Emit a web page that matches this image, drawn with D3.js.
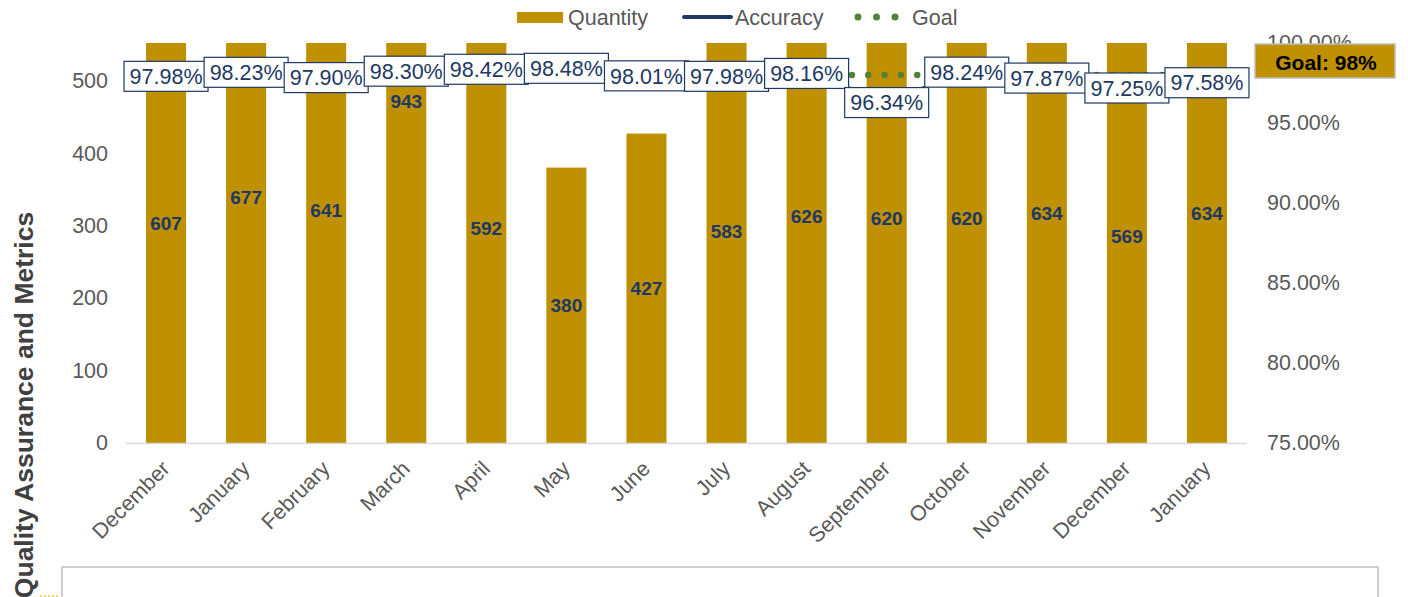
<!DOCTYPE html>
<html><head><meta charset="utf-8">
<script src="https://cdn.jsdelivr.net/npm/d3@7/dist/d3.min.js"></script>
<style>body{margin:0;background:#fff}svg{display:block;font-family:"Liberation Sans",Arial,sans-serif}</style>
</head><body>
<svg id="c" width="1408" height="597"></svg>
<script>
const months = ["December","January","February","March","April","May","June","July","August","September","October","November","December","January"];
const quantity = [607,677,641,943,592,380,427,583,626,620,620,634,569,634];
const accuracy = [97.98,98.23,97.90,98.30,98.42,98.48,98.01,97.98,98.16,96.34,98.24,97.87,97.25,97.58];
const goal = [98,98,98,98,98,98,98,98,98,98,98,98,98,98];
const leftTicks = [0,100,200,300,400,500];
const rightTicks = [75,80,85,90,95,100];

const svg = d3.select("#c");
const L = 126, R = 1247, T = 43, B = 443;
const gold = "#BF9000", navy = "#203864", grey = "#595959", green = "#548235";
const FS = 21.5;

const x = d3.scaleBand().domain(d3.range(months.length)).range([L, R]).paddingInner(0.5).paddingOuter(0.25);
const yL = d3.scaleLinear().domain([0, 552]).range([B, T]);
const yR = d3.scaleLinear().domain([75, 100]).range([B, T]);
const cx = i => x(i) + x.bandwidth() / 2;

svg.append("defs").append("clipPath").attr("id","plot").append("rect")
  .attr("x", L).attr("y", T).attr("width", R - L).attr("height", B - T);

// bottom box
svg.append("rect").attr("x", 62).attr("y", 567).attr("width", 1316).attr("height", 60)
  .attr("fill", "#fff").attr("stroke", "#bfbfbf").attr("stroke-width", 1.5);
svg.append("line").attr("x1", 40).attr("x2", 58).attr("y1", 596).attr("y2", 596)
  .attr("stroke", "#f5d76e").attr("stroke-width", 2).attr("stroke-dasharray", "2 2");

// bars
svg.append("g").attr("clip-path", "url(#plot)").selectAll("rect").data(quantity).join("rect")
  .attr("x", (d, i) => x(i)).attr("width", x.bandwidth())
  .attr("y", d => yL(d)).attr("height", d => B - yL(d)).attr("fill", gold);

// baseline
svg.append("line").attr("x1", L).attr("x2", R).attr("y1", B + 0.5).attr("y2", B + 0.5)
  .attr("stroke", "#d9d9d9").attr("stroke-width", 1.5);

// left axis
const axL = svg.append("g").attr("transform", `translate(${L},0)`)
  .call(d3.axisLeft(yL).tickValues(leftTicks).tickSize(0).tickPadding(18));
axL.select(".domain").remove();
axL.selectAll("text").attr("font-size", FS).attr("fill", grey).attr("font-family", "Liberation Sans, Arial");

// right axis
const axR = svg.append("g").attr("transform", `translate(${R},0)`)
  .call(d3.axisRight(yR).tickValues(rightTicks).tickSize(0).tickPadding(20).tickFormat(d => d.toFixed(2) + "%"));
axR.select(".domain").remove();
axR.selectAll("text").attr("font-size", FS).attr("fill", grey).attr("font-family", "Liberation Sans, Arial");

// x axis labels
const axX = svg.append("g").attr("transform", `translate(0,${B})`)
  .call(d3.axisBottom(x).tickSize(0).tickFormat(i => months[i]));
axX.select(".domain").remove();
axX.selectAll("text").attr("font-size", FS).attr("fill", grey).attr("font-family", "Liberation Sans, Arial")
  .attr("text-anchor", "end").attr("dy", null).attr("y", 0)
  .attr("transform", "translate(5,27) rotate(-45)");

// y title
svg.append("text").attr("transform", "translate(33,405) rotate(-90)").attr("text-anchor", "middle")
  .attr("font-size", 26.5).attr("font-weight", "bold").attr("fill", "#404040").text("Quality Assurance and Metrics");

// bar value labels (centered at the bar's full middle)
svg.append("g").selectAll("text").data(quantity).join("text")
  .attr("x", (d, i) => cx(i)).attr("y", d => (B + yL(d)) / 2).attr("dy", "0.35em")
  .attr("text-anchor", "middle").attr("font-size", 19).attr("font-weight", "bold").attr("fill", navy)
  .text(d => d);

// goal line
svg.append("path").datum(goal).attr("fill", "none").attr("stroke", green).attr("stroke-width", 6.5)
  .attr("stroke-linecap", "round").attr("stroke-dasharray", "0 16.33")
  .attr("d", d3.line().x((d, i) => cx(i)).y(d => yR(d)));

// accuracy line
svg.append("path").datum(accuracy).attr("fill", "none").attr("stroke", navy).attr("stroke-width", 3)
  .attr("d", d3.line().x((d, i) => cx(i)).y(d => yR(d)));

// accuracy labels
const lab = svg.append("g").selectAll("g").data(accuracy).join("g")
  .attr("transform", (d, i) => `translate(${cx(i)},${yR(d) + 1})`);
lab.append("rect").attr("x", -42).attr("y", -15).attr("width", 84).attr("height", 30)
  .attr("fill", "#fff").attr("stroke", navy).attr("stroke-width", 1.2);
lab.append("text").attr("text-anchor", "middle").attr("dy", "0.36em").attr("font-size", FS).attr("fill", navy)
  .text(d => d.toFixed(2) + "%");

// goal box
svg.append("rect").attr("x", 1255).attr("y", 44).attr("width", 140).attr("height", 34)
  .attr("fill", gold).attr("stroke", "#bfbfbf").attr("stroke-width", 1.5);
svg.append("text").attr("x", 1326).attr("y", 62).attr("dy", "0.36em").attr("text-anchor", "middle")
  .attr("font-size", 21).attr("font-weight", "bold").attr("fill", "#000").text("Goal: 98%");

// legend
const lg = svg.append("g").attr("font-size", FS).attr("fill", grey);
lg.append("rect").attr("x", 517).attr("y", 12).attr("width", 46).attr("height", 11).attr("fill", gold);
lg.append("text").attr("x", 568).attr("y", 17).attr("dy", "0.36em").text("Quantity");
lg.append("line").attr("x1", 684).attr("x2", 731).attr("y1", 17).attr("y2", 17)
  .attr("stroke", navy).attr("stroke-width", 4).attr("stroke-linecap", "round");
lg.append("text").attr("x", 735).attr("y", 17).attr("dy", "0.36em").text("Accuracy");
lg.append("g").selectAll("circle").data([0,1,2]).join("circle")
  .attr("cx", d => 858 + d * 18.5).attr("cy", 17).attr("r", 3.5).attr("fill", green);
lg.append("text").attr("x", 912).attr("y", 17).attr("dy", "0.36em").text("Goal");
</script>
</body></html>
